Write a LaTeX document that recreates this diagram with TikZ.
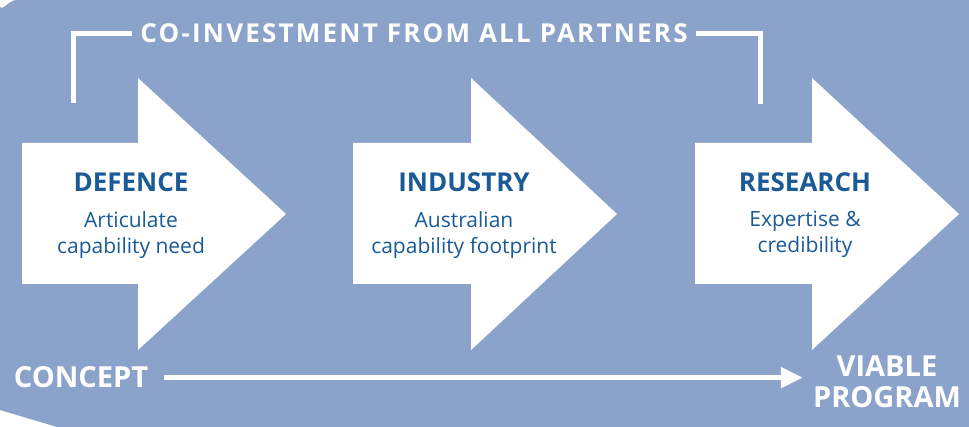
\documentclass[tikz,border=0pt]{standalone}
\usepackage{fontspec}
\setmainfont{Open Sans}
\newfontfamily\spacedfont[LetterSpace=8.5]{Open Sans}
\usetikzlibrary{positioning,arrows.meta}
\definecolor{bgblue}{HTML}{8BA3CB}
\definecolor{textblue}{HTML}{1A5A96}

\begin{document}
\begin{tikzpicture}[
		x=1pt, y=-1pt,
		stage/.style = {fill=white},
		head/.style = {anchor=base, inner sep=0pt, text=textblue, font=\fontsize{26}{28}\selectfont\bfseries},
		sub/.style = {anchor=north, inner sep=0pt, align=center, text=textblue, font=\fontsize{21}{26}\selectfont},
		banner/.style = {anchor=base, inner sep=0pt, align=center, text=white, font=\fontsize{29}{31}\selectfont\bfseries},
		bracket/.style = {draw=white, line width=5pt},
		flow/.style = {draw=white, line width=5pt, -{Triangle[length=22pt,width=20pt]}}
	]
	\useasboundingbox (0,0) rectangle (969,427);
	\fill[bgblue] (0,6) to[out=-80,in=180] (16,0) -- (969,0) -- (969,427) -- (57,427) -- (0,410) -- cycle;
	\fill[stage] (22,143) -- (138,143) -- (138,78) -- (286,214) -- (138,350) -- (138,284) -- (22,284) -- cycle;
	\fill[stage] (353,143) -- (471,143) -- (471,78) -- (617,214) -- (471,350) -- (471,284) -- (353,284) -- cycle;
	\fill[stage] (695,143) -- (812,143) -- (812,78) -- (959,214) -- (812,350) -- (812,284) -- (695,284) -- cycle;
	\node[head] (defence) at (131,192) {DEFENCE};
	\node[sub] (defsub) at (131,211) {Articulate\\capability need};
	\node[head] (industry) at (464,192) {INDUSTRY};
	\node[sub] (indsub) at (464,211) {Australian\\capability footprint};
	\node[head] (research) at (805,192) {RESEARCH};
	\node[sub] (ressub) at (805,211) {Expertise \&\\credibility};
	\node[anchor=base, inner xsep=8pt, inner ysep=0pt, text=white, font=\fontsize{26}{28}\spacedfont\bfseries] (coinv) at (414,43) {CO-INVESTMENT FROM ALL PARTNERS};
	\coordinate (bl) at (73,103);
	\coordinate (br) at (760,104);
	\draw[bracket] (bl) |- (coinv.west);
	\draw[bracket] (coinv.east) -| (br);
	\node[banner] (concept) at (81,388) {CONCEPT};
	\node[banner, anchor=north] (viable) at (887,356) {VIABLE\\PROGRAM};
	\draw[flow, shorten <=16pt, shorten >=10pt] (concept.east) -- (concept.east -| viable.west);
\end{tikzpicture}
\end{document}
